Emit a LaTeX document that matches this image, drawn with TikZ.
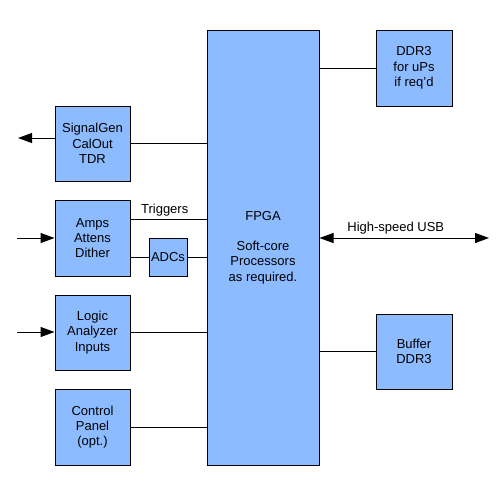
\documentclass[tikz,border=0pt]{standalone}
\usepackage{fontspec}
\setmainfont{Liberation Sans}
\usetikzlibrary{arrows.meta}
\definecolor{boxblue}{RGB}{140,187,255}
\begin{document}
\begin{tikzpicture}[x=1pt,y=-1pt,
  blk/.style={draw=black,fill=boxblue,line width=1pt,inner sep=0pt,align=center,
    font=\fontsize{13}{15.3}\selectfont},
  wire/.style={line width=1pt},
  tip/.style={-{Triangle[length=14pt,width=10pt]}},
  lbl/.style={font=\fontsize{13}{15}\selectfont,inner sep=0pt}]
\useasboundingbox[fill=white] (0,0) rectangle (500,499);
\node[blk,minimum width=112pt,minimum height=435pt] (fpga) at (263,247.5) {FPGA\\[15pt]Soft-core\\Processors\\as required.};
\node[blk,minimum width=75pt,minimum height=75pt] (sg) at (92.5,143.5) {SignalGen\\CalOut\\TDR};
\node[blk,minimum width=75pt,minimum height=76pt] (amps) at (92.5,238) {Amps\\Attens\\Dither};
\node[blk,minimum width=75pt,minimum height=75pt] (logic) at (92.5,332.5) {Logic\\Analyzer\\Inputs};
\node[blk,minimum width=75pt,minimum height=76pt] (ctrl) at (92.5,427) {Control\\Panel\\(opt.)};
\node[blk,minimum width=38pt,minimum height=38pt] (adc) at (168,257) {ADCs};
\node[blk,minimum width=76pt,minimum height=76pt] (ddr) at (414,68) {DDR3\\for uPs\\if req'd};
\node[blk,minimum width=76pt,minimum height=75pt] (buf) at (414,351.5) {Buffer\\DDR3};
\coordinate (sgout) at (18,138);
\coordinate (ampsin) at (17,238);
\coordinate (logicin) at (17,332);
\coordinate (usbend) at (489,238);
% connectors
\draw[wire] (sg.east) -- (sg.east -| fpga.west);
\draw[wire,tip] ([yshift=5.5pt]sg.west) -- (sgout);
\draw[wire,tip] (ampsin) -- (ampsin -| amps.west);
\draw[wire] ([yshift=19pt]amps.east) -- ([yshift=19pt]amps.east -| fpga.west) node[lbl,pos=0.45,above=2pt] (trig) {Triggers};
\draw[wire] ([yshift=-19pt]amps.east) -- (adc.west);
\draw[wire] (adc.east) -- (adc.east -| fpga.west);
\draw[wire,tip] (logicin) -- (logicin -| logic.west);
\draw[wire] (logic.east) -- (logic.east -| fpga.west);
\draw[wire] (ctrl.east) -- (ctrl.east -| fpga.west);
\draw[wire] (ddr.west -| fpga.east) -- (ddr.west);
\draw[wire] (buf.west -| fpga.east) -- (buf.west);
\draw[wire,{Triangle[length=14pt,width=10pt]}-{Triangle[length=14pt,width=10pt]}] (usbend -| fpga.east) -- (usbend) node[lbl,pos=0.45,above=3pt] (usb) {High-speed USB};
\end{tikzpicture}
\end{document}
